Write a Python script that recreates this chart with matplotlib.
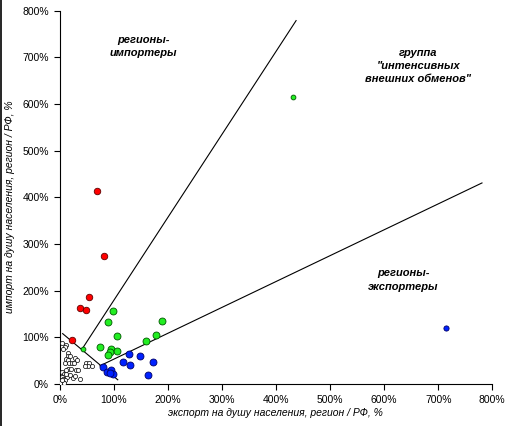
import matplotlib
matplotlib.use("Agg")
import matplotlib.pyplot as plt
from matplotlib.ticker import FuncFormatter

# values in units of 100% (1.0 = 100%)
red_x = [0.69, 0.82, 0.54, 0.37, 0.48, 0.23]
red_y = [4.14, 2.74, 1.87, 1.62, 1.59, 0.95]

green_x = [0.98, 0.89, 1.88, 1.78, 1.59, 1.05, 0.75, 0.94, 1.06, 0.92, 0.89]
green_y = [1.57, 1.33, 1.34, 1.05, 0.93, 1.02, 0.80, 0.76, 0.70, 0.68, 0.62]
green_small_x = [4.31, 0.43]
green_small_y = [6.16, 0.75]

blue_x = [1.27, 1.48, 1.17, 1.30, 1.73, 1.63, 0.80, 0.88, 0.95, 0.99, 0.93]
blue_y = [0.64, 0.61, 0.47, 0.40, 0.48, 0.19, 0.37, 0.25, 0.29, 0.22, 0.24]
blue_small_x = [7.15]
blue_small_y = [1.20]

white_x = [0.04, 0.12, 0.09, 0.06, 0.15, 0.14, 0.19, 0.11, 0.15, 0.28, 0.31,
           0.10, 0.17, 0.22, 0.26, 0.49, 0.54, 0.59, 0.51, 0.46, 0.15, 0.20,
           0.12, 0.30, 0.34, 0.37, 0.04, 0.07, 0.10, 0.13, 0.03, 0.06, 0.09,
           0.02, 0.05, 0.08, 0.01, 0.03, 0.12, 0.18, 0.24, 0.28]
white_y = [0.87, 0.84, 0.80, 0.76, 0.66, 0.60, 0.59, 0.53, 0.52, 0.55, 0.52,
           0.45, 0.45, 0.45, 0.45, 0.44, 0.46, 0.39, 0.39, 0.39, 0.33, 0.32,
           0.29, 0.29, 0.30, 0.10, 0.26, 0.22, 0.18, 0.15, 0.14, 0.11, 0.08,
           0.06, 0.04, 0.03, 0.02, 0.09, 0.22, 0.20, 0.12, 0.17]

# boundary lines between groups
steep_x = [0.41, 4.37]
steep_y = [0.75, 7.79]
flat_x = [0.74, 7.81]
flat_y = [0.39, 4.31]
split_x = [0.05, 1.07]
split_y = [1.08, 0.09]

ticks = [0, 1, 2, 3, 4, 5, 6, 7, 8]

FONT = "Liberation Sans"

fig = plt.figure(figsize=(5.08, 4.26), dpi=100)
ax = fig.add_axes([0.118, 0.0986, 0.851, 0.876])

line_kw = dict(color="black", linewidth=0.8)
ax.plot(steep_x, steep_y, **line_kw)
ax.plot(flat_x, flat_y, **line_kw)
ax.plot(split_x, split_y, **line_kw)

ax.scatter(white_x, white_y, s=9, facecolor="white", edgecolor="black",
           linewidth=0.5, zorder=3)
ax.scatter(red_x, red_y, s=22, facecolor="#ff0000", edgecolor="#600000",
           linewidth=0.6, zorder=3)
ax.scatter(green_x, green_y, s=25, facecolor="#22ee22", edgecolor="#005500",
           linewidth=0.6, zorder=3)
ax.scatter(green_small_x, green_small_y, s=12, facecolor="#22ee22",
           edgecolor="#005500", linewidth=0.6, zorder=3)
ax.scatter(blue_x, blue_y, s=25, facecolor="#0022ff", edgecolor="#000066",
           linewidth=0.6, zorder=3)
ax.scatter(blue_small_x, blue_small_y, s=14, facecolor="#0022ff",
           edgecolor="#000066", linewidth=0.6, zorder=3)

ax.set_xlim(0, 8)
ax.set_ylim(0, 8)
ax.set_xticks(ticks)
ax.set_yticks(ticks)
pct = FuncFormatter(lambda v, _: f"{v * 100:.0f}%")
ax.xaxis.set_major_formatter(pct)
ax.yaxis.set_major_formatter(pct)
ax.tick_params(direction="out", length=4, width=0.8, labelsize=7.5, pad=4)
for lab in ax.get_xticklabels() + ax.get_yticklabels():
    lab.set_fontfamily(FONT)
ax.spines["top"].set_visible(False)
ax.spines["right"].set_visible(False)

ax.set_xlabel("экспорт на душу населения, регион / РФ, %", fontsize=7.5,
              style="italic", family=FONT, va="center")
ax.set_ylabel("импорт на душу населения, регион / РФ, %", fontsize=7.5,
              style="italic", family=FONT, va="center")
ax.xaxis.set_label_coords(0.498, -0.078)
ax.yaxis.set_label_coords(-0.115, 0.475)

note_kw = dict(ha="center", va="center", fontsize=8, style="italic",
               weight="bold", family=FONT, linespacing=1.4)
ax.text(1.54, 7.23, "регионы-\nимпортеры", **note_kw)
ax.text(6.63, 6.82, "группа\n\"интенсивных\nвнешних обменов\"", **note_kw)
ax.text(6.35, 2.23, "регионы-\nэкспортеры", **note_kw)

# thin frame line at the left edge of the picture
fig.add_artist(plt.Line2D([0.001, 0.001], [0, 1], color="black",
                          linewidth=1.2, transform=fig.transFigure))

fig.savefig("out.png", dpi=100)
